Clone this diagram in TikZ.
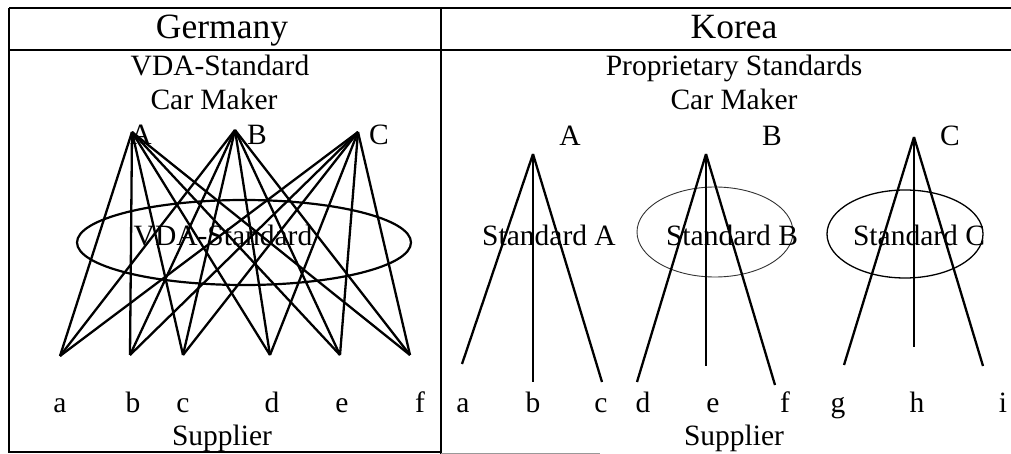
\documentclass[tikz,border=0pt]{standalone}
\usepackage{fontspec}
\setmainfont{Liberation Serif}
\begin{document}
\begin{tikzpicture}[x=1pt,y=-1pt,
  frame/.style={line width=2pt},
  edge/.style={line width=2.3pt},
  body/.style={font=\fontsize{29.5}{31}\selectfont, inner sep=0pt, anchor=base},
  head/.style={font=\fontsize{35.5}{37}\selectfont, inner sep=0pt, anchor=base},
  thinell/.style={line width=0.9pt, draw=black!80},
  thickell/.style={line width=2.2pt}]
\useasboundingbox (0,0) rectangle (1011,454);
% frame
\draw[frame] (9,8) -- (1011,8);
\draw[frame] (9,50) -- (1011,50);
\draw[frame] (9,8) -- (9,453);
\draw[frame] (441,8) -- (441,454);
\draw[frame] (9,452) -- (441,452);
\draw[line width=0.8pt, black!40] (441,453) -- (600,453);
% headers
\node[head] (hg) at (222,39) {Germany};
\node[head] (hk) at (734,39) {Korea};
\node[body] (vda) at (220,76) {VDA-Standard};
\node[body] (cmg) at (214,110) {Car Maker};
\node[body] (prop) at (734,76) {Proprietary Standards};
\node[body] (cmk) at (734,110) {Car Maker};
% Germany
\coordinate (GA) at (132,132);
\coordinate (GB) at (235,130);
\coordinate (GC) at (358,132);
\node[body] (lGA) at (141,145) {A};
\node[body] (lGB) at (257,145) {B};
\node[body] (lGC) at (379,145) {C};
\coordinate (Ga) at (60,356);
\coordinate (Gb) at (130,355);
\coordinate (Gc) at (183,355);
\coordinate (Gd) at (270,355);
\coordinate (Ge) at (340,355);
\coordinate (Gf) at (410,355);
\draw[thickell] (244,242.5) ellipse [x radius=167, y radius=42.5];
\node[body] (vdain) at (223,245) {VDA-Standard};
\foreach \m in {GA,GB,GC}
  \foreach \s in {Ga,Gb,Gc,Gd,Ge,Gf}
    \draw[edge] (\m) -- (\s);
\node[body] (sa) at (60,412) {a};
\node[body] (sb) at (133,412) {b};
\node[body] (sc) at (183,412) {c};
\node[body] (sd) at (272,412) {d};
\node[body] (se) at (342,412) {e};
\node[body] (sf) at (420,412) {f};
\node[body] (supg) at (222,445) {Supplier};
% Korea
\coordinate (KA) at (533,154);
\coordinate (KB) at (706,154);
\coordinate (KC) at (914,137);
\node[body] (lKA) at (570,146) {A};
\node[body] (lKB) at (772,146) {B};
\node[body] (lKC) at (950,146) {C};
\coordinate (Ka) at (462,364);
\coordinate (Kb) at (533,382);
\coordinate (Kc) at (602,382);
\coordinate (Kd) at (637,382);
\coordinate (Ke) at (706,366);
\coordinate (Kf) at (775,385);
\coordinate (Kg) at (844,365);
\coordinate (Kh) at (914,347);
\coordinate (Ki) at (983,366);
\draw[thinell] (715,232) ellipse [x radius=78, y radius=45];
\draw[thinell, line width=1.3pt, draw=black] (905,234) ellipse [x radius=78, y radius=44];
\node[body] (stA) at (549,246) {Standard A};
\node[body] (stB) at (732,246) {Standard B};
\node[body] (stC) at (919,246) {Standard C};
\foreach \s in {Ka,Kb,Kc} \draw[edge] (KA) -- (\s);
\foreach \s in {Kd,Ke,Kf} \draw[edge] (KB) -- (\s);
\foreach \s in {Kg,Kh,Ki} \draw[edge] (KC) -- (\s);
\node[body] (ka) at (463,412) {a};
\node[body] (kb) at (533,412) {b};
\node[body] (kc) at (601,412) {c};
\node[body] (kd) at (643,412) {d};
\node[body] (ke) at (713,412) {e};
\node[body] (kf) at (785,412) {f};
\node[body] (kg) at (838,412) {g};
\node[body] (kh) at (917,412) {h};
\node[body] (ki) at (1003,412) {i};
\node[body] (supk) at (734,445) {Supplier};
\end{tikzpicture}
\end{document}
